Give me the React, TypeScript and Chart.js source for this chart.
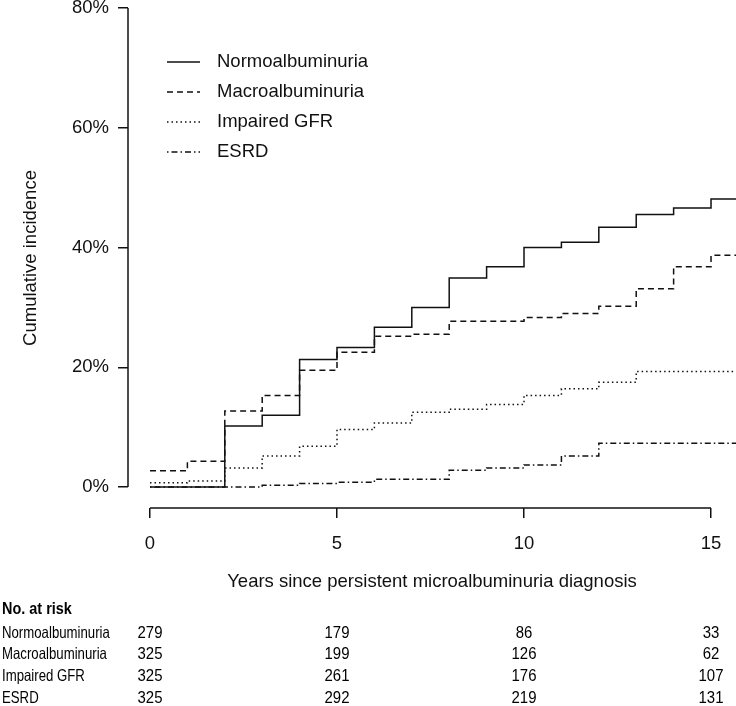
import React, { useEffect, useRef } from 'react';
import { Chart, registerables } from 'chart.js';

Chart.register(...registerables);

// ---- data ----
const years = [0, 1, 2, 3, 4, 5, 6, 7, 8, 9, 10, 11, 12, 13, 14, 15, 15.7];
const normoalbuminuria = [0, 0, 10.2, 12.0, 21.3, 23.3, 26.7, 30.0, 34.9, 36.8, 40.0, 40.9, 43.4, 45.5, 46.6, 48.1, 48.1];
const macroalbuminuria = [2.7, 4.3, 12.7, 15.3, 19.5, 22.5, 25.2, 25.5, 27.7, 27.7, 28.3, 29.0, 30.2, 33.1, 36.8, 38.7, 38.7];
const impairedGFR = [0.7, 1.0, 3.2, 5.2, 6.8, 9.6, 10.7, 12.5, 13.0, 13.8, 15.3, 16.4, 17.5, 19.3, 19.3, 19.3, 19.3];
const esrd = [0, 0, 0, 0.3, 0.6, 0.8, 1.3, 1.3, 2.8, 3.2, 3.7, 5.2, 7.3, 7.3, 7.3, 7.3, 7.3];

const seriesNames = ['Normoalbuminuria', 'Macroalbuminuria', 'Impaired GFR', 'ESRD'];
const seriesValues = [normoalbuminuria, macroalbuminuria, impairedGFR, esrd];
const seriesDashes: number[][] = [[], [6, 4], [1.5, 3], [1.5, 3, 6, 3]];

const yTicks = [0, 20, 40, 60, 80];
const xTicks = [0, 5, 10, 15];

const riskTitle = 'No. at risk';
const riskYears = [0, 5, 10, 15];
const riskNormo = [279, 179, 86, 33];
const riskMacro = [325, 199, 126, 62];
const riskImpaired = [325, 261, 176, 107];
const riskEsrd = [325, 292, 219, 131];
const riskRows = [riskNormo, riskMacro, riskImpaired, riskEsrd];

const xTitle = 'Years since persistent microalbuminuria diagnosis';
const yTitle = 'Cumulative incidence';

// ---- style ----
const INK = '#111111';
const FONT = '"Liberation Sans", Arial, Helvetica, sans-serif';
const FS = 18.5;

function narrowText(ctx: CanvasRenderingContext2D, text: string, x: number, y: number, align: CanvasTextAlign, sx: number) {
  ctx.save();
  ctx.translate(x, y);
  ctx.scale(sx, 1);
  ctx.textAlign = align;
  ctx.fillText(text, 0, 0);
  ctx.restore();
}

const overlay = {
  id: 'overlay',
  afterDraw(chart: any) {
    const { ctx, chartArea } = chart;
    const x = chart.scales.x;
    const y = chart.scales.y;
    ctx.save();
    // axis lines (R style, spanning tick range only)
    ctx.strokeStyle = INK;
    ctx.lineWidth = 1.5;
    ctx.setLineDash([]);
    ctx.beginPath();
    ctx.moveTo(chartArea.left, y.getPixelForValue(yTicks[0]));
    ctx.lineTo(chartArea.left, y.getPixelForValue(yTicks[yTicks.length - 1]));
    ctx.stroke();
    ctx.beginPath();
    ctx.moveTo(x.getPixelForValue(xTicks[0]), chartArea.bottom);
    ctx.lineTo(x.getPixelForValue(xTicks[xTicks.length - 1]), chartArea.bottom);
    ctx.stroke();

    // legend
    ctx.font = `${FS}px ${FONT}`;
    ctx.textBaseline = 'middle';
    ctx.textAlign = 'left';
    ctx.fillStyle = INK;
    chart.data.datasets.forEach((ds: any, i: number) => {
      const ly = 62 + i * 30;
      ctx.strokeStyle = ds.borderColor;
      ctx.lineWidth = ds.borderWidth;
      ctx.setLineDash(ds.borderDash || []);
      ctx.beginPath();
      ctx.moveTo(167, ly);
      ctx.lineTo(200, ly);
      ctx.stroke();
      ctx.setLineDash([]);
      ctx.fillText(ds.label, 217, ly);
    });

    // risk table (narrow type)
    ctx.fillStyle = '#000';
    ctx.font = `bold 17px ${FONT}`;
    narrowText(ctx, riskTitle, 2, 609, 'left', 0.85);
    riskRows.forEach((row, r) => {
      const ry = 633 + r * 21.8;
      ctx.font = `16.5px ${FONT}`;
      narrowText(ctx, seriesNames[r], 2, ry, 'left', 0.8);
      ctx.font = `17px ${FONT}`;
      row.forEach((v, c) => {
        narrowText(ctx, String(v), x.getPixelForValue(riskYears[c]), ry, 'center', 0.88);
      });
    });
    ctx.restore();
  },
};

export default function App() {
  const ref = useRef<HTMLCanvasElement | null>(null);
  useEffect(() => {
    if (!ref.current) return;
    const chart = new Chart(ref.current, {
      type: 'line',
      data: {
        datasets: seriesNames.map((name, i) => ({
          label: name,
          data: years.map((t, k) => ({ x: t, y: seriesValues[i][k] })),
          borderColor: INK,
          borderWidth: 1.5,
          borderDash: seriesDashes[i],
          pointRadius: 0,
          fill: false,
          stepped: 'before' as const,
          tension: 0,
        })),
      },
      options: {
        responsive: false,
        animation: false,
        devicePixelRatio: 1,
        layout: { padding: { top: 8, left: 0, right: 0, bottom: 113 } },
        plugins: { legend: { display: false }, tooltip: { enabled: false } },
        scales: {
          x: {
            type: 'linear',
            min: -0.588,
            max: 15.668,
            afterBuildTicks: (s: any) => {
              s.ticks = xTicks.map((v) => ({ value: v }));
            },
            afterFit: (s: any) => {
              s.height = 85;
              s.paddingLeft = 0;
              s.paddingRight = 0;
            },
            grid: { drawOnChartArea: false, drawTicks: true, tickLength: 10, color: INK, lineWidth: 1.5 },
            border: { display: false },
            ticks: { padding: 15, color: INK, font: { family: FONT, size: FS }, maxRotation: 0, autoSkip: false },
            title: { display: true, text: xTitle, color: INK, font: { family: FONT, size: FS }, padding: { top: 0, bottom: 0 } },
          },
          y: {
            type: 'linear',
            min: -3.5,
            max: 80,
            afterBuildTicks: (s: any) => {
              s.ticks = yTicks.map((v) => ({ value: v }));
            },
            afterFit: (s: any) => {
              s.width = 128;
              s.paddingTop = 0;
              s.paddingBottom = 0;
            },
            grid: { drawOnChartArea: false, drawTicks: true, tickLength: 10, color: INK, lineWidth: 1.5 },
            border: { display: false },
            ticks: { padding: 9, color: INK, font: { family: FONT, size: FS }, callback: (v: any) => `${v}%`, autoSkip: false },
            title: { display: true, text: yTitle, color: INK, font: { family: FONT, size: FS }, padding: { top: 20, bottom: 0 } },
          },
        },
      },
      plugins: [overlay],
    });
    return () => chart.destroy();
  }, []);

  return (
    <div style={{ position: 'fixed', left: 0, top: 0, width: 736, height: 706, background: '#fff' }}>
      <canvas ref={ref} width={736} height={706} style={{ display: 'block', width: 736, height: 706 }} />
    </div>
  );
}
